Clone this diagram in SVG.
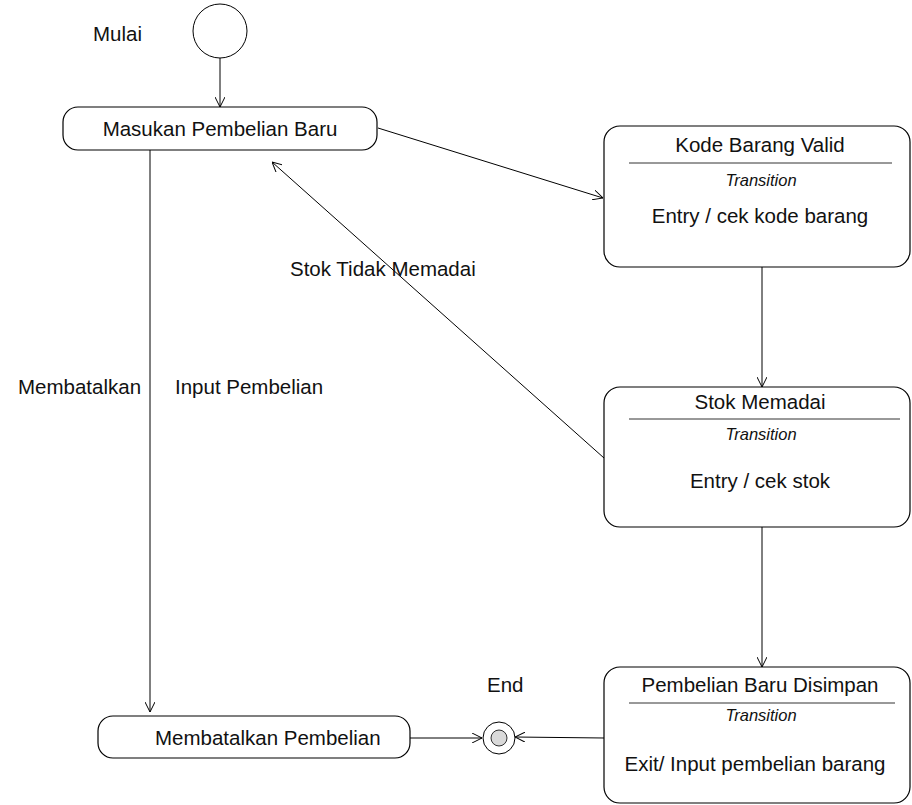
<svg xmlns="http://www.w3.org/2000/svg" width="912" height="805" viewBox="0 0 912 805">
<style>
.box{fill:#fff;stroke:#000;stroke-width:1.2}
.t{font-family:"Liberation Sans",Arial,sans-serif;font-size:20.5px;fill:#111}
.tc{font-family:"Liberation Sans",Arial,sans-serif;font-size:20.5px;fill:#111;text-anchor:middle}
.it{font-family:"Liberation Sans",Arial,sans-serif;font-size:16.5px;font-style:italic;fill:#111;text-anchor:middle}
.sep{stroke:#333;stroke-width:1}
.edge{stroke:#000;stroke-width:1;fill:none;marker-end:url(#arr)}
</style>
<defs>
<marker id="arr" viewBox="0 0 10 10" refX="10" refY="5" markerWidth="10" markerHeight="10" markerUnits="userSpaceOnUse" orient="auto">
<path d="M0,0 L10,5 L0,10" fill="none" stroke="#000" stroke-width="1"/>
</marker>
</defs>
<rect width="912" height="805" fill="#fff"/>
<g id="connectors">
<line class="edge" x1="220" y1="58" x2="220" y2="107"/>
<line class="edge" x1="378" y1="128" x2="603" y2="198"/>
<line class="edge" x1="762" y1="267" x2="762" y2="387"/>
<line class="edge" x1="604" y1="458" x2="272" y2="162"/>
<line class="edge" x1="762" y1="527" x2="762" y2="667"/>
<line class="edge" x1="150" y1="150" x2="150" y2="712"/>
<line class="edge" x1="410" y1="738" x2="482" y2="738"/>
<line class="edge" x1="604" y1="738" x2="515" y2="737"/>
<text class="t" x="290" y="276">Stok Tidak Memadai</text>
<text class="t" x="18" y="394">Membatalkan</text>
<text class="t" x="175" y="394">Input Pembelian</text>
</g>
<g id="start">
<circle cx="220" cy="31" r="27" fill="#fff" stroke="#000" stroke-width="1"/>
<text class="t" x="93" y="41">Mulai</text>
</g>
<g id="masukan">
<rect class="box" x="63" y="107" width="314" height="43" rx="15"/>
<text class="tc" x="220" y="136">Masukan Pembelian Baru</text>
</g>
<g id="kode">
<rect class="box" x="604" y="126" width="306" height="141" rx="16"/>
<line class="sep" x1="629" y1="163" x2="892" y2="163"/>
<text class="tc" x="760" y="152">Kode Barang Valid</text>
<text class="it" x="761" y="186">Transition</text>
<text class="tc" x="760" y="223">Entry / cek kode barang</text>
</g>
<g id="stok">
<rect class="box" x="604" y="387" width="306" height="140" rx="16"/>
<line class="sep" x1="629" y1="419" x2="900" y2="419"/>
<text class="tc" x="760" y="409">Stok Memadai</text>
<text class="it" x="761" y="440">Transition</text>
<text class="tc" x="760" y="488">Entry / cek stok</text>
</g>
<g id="disimpan">
<rect class="box" x="604" y="667" width="306" height="136" rx="16"/>
<line class="sep" x1="629" y1="703" x2="895" y2="703"/>
<text class="tc" x="760" y="692">Pembelian Baru Disimpan</text>
<text class="it" x="761" y="721">Transition</text>
<text class="tc" x="755" y="771">Exit/ Input pembelian barang</text>
</g>
<g id="batal">
<rect class="box" x="98" y="716" width="312" height="42" rx="15"/>
<text class="t" x="155" y="745">Membatalkan Pembelian</text>
</g>
<g id="end">
<circle cx="499" cy="738" r="16" fill="#fff" stroke="#000" stroke-width="1"/>
<circle cx="499" cy="738" r="8" fill="#d9d9d9" stroke="#000" stroke-width="0.8"/>
<text class="t" x="487" y="692">End</text>
</g>
</svg>
